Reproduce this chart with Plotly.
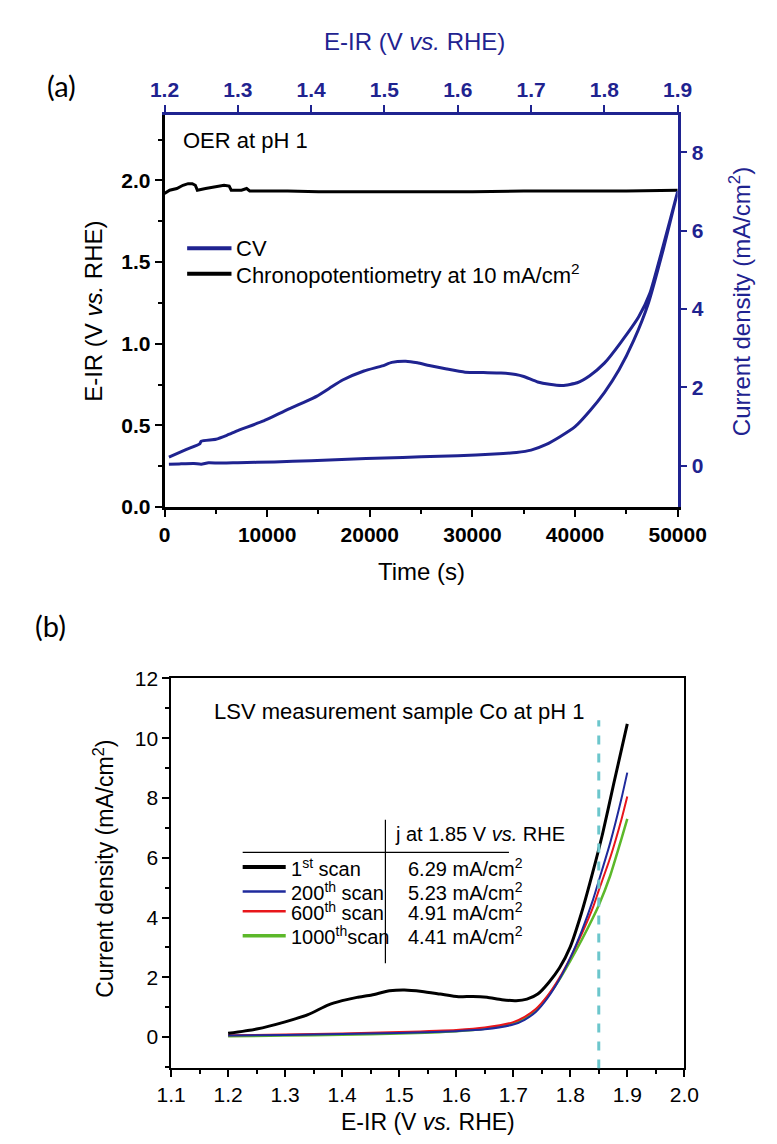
import plotly.graph_objects as go

W, H = 777, 1144

# ---------------- data: panel (a) ----------------
cp_time = [0, 500, 1200, 1800, 2300, 2700, 3000, 3200, 4000, 5000, 5800, 6300, 6500,
           7500, 8000, 8300, 9000, 12000, 15000, 20000, 25000, 30000, 35000, 40000, 45000, 50000]
cp_potential = [1.92, 1.94, 1.95, 1.97, 1.98, 1.98, 1.97, 1.94, 1.95, 1.96, 1.97, 1.965, 1.94,
                1.94, 1.95, 1.935, 1.935, 1.935, 1.93, 1.93, 1.93, 1.93, 1.935, 1.935, 1.935, 1.94]

cv_fwd_E = [1.206, 1.22, 1.24, 1.25, 1.26, 1.28, 1.30, 1.35, 1.40, 1.45, 1.50, 1.55, 1.60,
            1.65, 1.68, 1.70, 1.72, 1.74, 1.76, 1.78, 1.80, 1.82, 1.84, 1.86, 1.88, 1.90]
cv_fwd_j = [0.04, 0.05, 0.06, 0.04, 0.08, 0.07, 0.08, 0.10, 0.13, 0.17, 0.20, 0.23, 0.26,
            0.30, 0.34, 0.40, 0.54, 0.75, 1.00, 1.40, 1.87, 2.45, 3.20, 4.15, 5.50, 7.00]

cv_rev_E = [1.90, 1.88, 1.862, 1.847, 1.822, 1.80, 1.78, 1.763, 1.743, 1.725, 1.709, 1.69,
            1.679, 1.659, 1.635, 1.61, 1.585, 1.561, 1.545, 1.529, 1.51, 1.497, 1.472, 1.443,
            1.425, 1.408, 1.39, 1.373, 1.334, 1.30, 1.285, 1.27, 1.25, 1.248, 1.23, 1.206]
cv_rev_j = [7.00, 5.60, 4.40, 3.81, 3.14, 2.62, 2.30, 2.12, 2.05, 2.08, 2.14, 2.28,
            2.33, 2.37, 2.38, 2.39, 2.47, 2.56, 2.63, 2.67, 2.64, 2.55, 2.42, 2.19,
            1.98, 1.78, 1.62, 1.48, 1.14, 0.90, 0.78, 0.68, 0.63, 0.56, 0.42, 0.22]

# ---------------- data: panel (b) ----------------
lsv1_E = [1.20, 1.25, 1.30, 1.34, 1.376, 1.40, 1.426, 1.452, 1.483, 1.509, 1.54, 1.572,
          1.604, 1.629, 1.654, 1.68, 1.705, 1.724, 1.743, 1.762, 1.781, 1.80, 1.819,
          1.838, 1.857, 1.876, 1.90]
lsv1_j = [0.13, 0.27, 0.51, 0.75, 1.08, 1.22, 1.33, 1.41, 1.55, 1.58, 1.53, 1.44,
          1.35, 1.36, 1.33, 1.25, 1.22, 1.27, 1.44, 1.82, 2.31, 3.02, 4.11,
          5.41, 6.83, 8.46, 10.48]

lsv_E = [1.20, 1.30, 1.40, 1.50, 1.60, 1.65, 1.70, 1.72, 1.74, 1.76, 1.78, 1.80,
         1.82, 1.84, 1.85, 1.87, 1.89, 1.90]
lsv200_j = [0.05, 0.07, 0.10, 0.14, 0.20, 0.26, 0.42, 0.58, 0.85, 1.30, 1.90, 2.65,
            3.55, 4.60, 5.23, 6.50, 8.00, 8.85]
lsv600_j = [0.06, 0.09, 0.12, 0.17, 0.24, 0.32, 0.50, 0.68, 0.95, 1.38, 1.95, 2.65,
            3.45, 4.35, 4.91, 6.00, 7.30, 8.05]
lsv1000_j = [0.03, 0.05, 0.08, 0.12, 0.20, 0.28, 0.45, 0.62, 0.90, 1.35, 1.90, 2.55,
             3.25, 4.00, 4.41, 5.40, 6.65, 7.30]

scan_labels = ["1<sup>st</sup> scan", "200<sup>th</sup> scan", "600<sup>th</sup> scan",
               "1000<sup>th</sup>scan"]
scan_values = ["6.29 mA/cm<sup>2</sup>", "5.23 mA/cm<sup>2</sup>", "4.91 mA/cm<sup>2</sup>",
               "4.41 mA/cm<sup>2</sup>"]
ref_potential = 1.85

BLUE_A = "#1f2390"
BLACK = "#000000"
C_BLUE = "#1f2a9c"
C_RED = "#e8161b"
C_GREEN = "#5cb82a"
C_DASH = "#6cc6cc"
FONT = "Liberation Sans, Arial, sans-serif"


def px(x):
    return x / W


def py(y):
    return 1 - y / H


fig = go.Figure()

fig.add_trace(go.Scatter(x=cp_time, y=cp_potential, xaxis="x", yaxis="y", mode="lines",
                         line=dict(color=BLACK, width=3), showlegend=False))
fig.add_trace(go.Scatter(x=cv_fwd_E + cv_rev_E, y=cv_fwd_j + cv_rev_j, xaxis="x2", yaxis="y2",
                         mode="lines", line=dict(color=BLUE_A, width=3, shape="spline", smoothing=0.5),
                         showlegend=False))

for E, j, c, w in [(lsv_E, lsv1000_j, C_GREEN, 2.5), (lsv_E, lsv600_j, C_RED, 2),
                   (lsv_E, lsv200_j, C_BLUE, 2), (lsv1_E, lsv1_j, BLACK, 3)]:
    fig.add_trace(go.Scatter(x=E, y=j, xaxis="x3", yaxis="y3", mode="lines",
                             line=dict(color=c, width=w, shape="spline", smoothing=0.6),
                             showlegend=False))

tick_a = dict(showline=True, linewidth=2.5, ticks="outside", ticklen=7, tickwidth=2,
              showgrid=False, zeroline=False)
fig.update_layout(
    width=W, height=H, margin=dict(l=0, r=0, t=0, b=0),
    plot_bgcolor="white", paper_bgcolor="white",
    font=dict(family=FONT, color=BLACK),
    xaxis=dict(domain=[px(150), px(694)], anchor="y", range=[0, 50000],
               tickvals=[0, 10000, 20000, 30000, 40000, 50000], tickformat="d",
               linecolor=BLACK, tickcolor=BLACK,
               tickfont=dict(size=21, weight="bold", color=BLACK),
               minor=dict(dtick=5000, ticks="outside", ticklen=4, tickwidth=2, tickcolor=BLACK),
               **tick_a),
    yaxis=dict(domain=[py(497), py(97)], anchor="x", range=[0, 2.4], dtick=0.5,
               tickformat=".1f", linecolor=BLACK, tickcolor=BLACK,
               tickfont=dict(size=21, weight="bold", color=BLACK),
               minor=dict(dtick=0.25, ticks="outside", ticklen=4, tickwidth=2, tickcolor=BLACK),
               **tick_a),
    xaxis2=dict(overlaying="x", anchor="y", side="top", range=[1.2, 1.9], dtick=0.1,
                tick0=1.2, tickformat=".1f", linecolor=BLUE_A, tickcolor=BLUE_A,
                tickfont=dict(size=21, weight="bold", color=BLUE_A), **tick_a),
    yaxis2=dict(overlaying="y", anchor="x", side="right", range=[-1.05, 8.95],
                tickvals=[0, 2, 4, 6, 8], linecolor=BLUE_A, tickcolor=BLUE_A,
                tickfont=dict(size=21, weight="bold", color=BLUE_A), **tick_a),
    xaxis3=dict(domain=[px(157), px(701)], anchor="y3", range=[1.1, 2.0], dtick=0.1, tick0=1.1,
                tickformat=".1f", showline=True, mirror=True, linecolor=BLACK, linewidth=1.5,
                ticks="outside", ticklen=7, tickwidth=1.5, tickcolor=BLACK,
                tickfont=dict(size=21, color=BLACK), showgrid=False, zeroline=False,
                minor=dict(dtick=0.05, ticks="outside", ticklen=4, tickwidth=1.5, tickcolor=BLACK)),
    yaxis3=dict(domain=[py(1070), py(672)], anchor="x3", range=[-1.05, 12], dtick=2, tick0=0,
                showline=True, mirror=True, linecolor=BLACK, linewidth=1.5,
                ticks="outside", ticklen=7, tickwidth=1.5, tickcolor=BLACK,
                tickfont=dict(size=21, color=BLACK), showgrid=False, zeroline=False,
                minor=dict(dtick=1, ticks="outside", ticklen=4, tickwidth=1.5, tickcolor=BLACK)),
)


def note(x, y, text, size, color=BLACK, xref="paper", yref="paper", xanchor="center",
         angle=0, family=None):
    f = dict(size=size, color=color)
    if family:
        f["family"] = family
    return dict(x=x, y=y, xref=xref, yref=yref, xanchor=xanchor, yanchor="middle",
                showarrow=False, text=text, textangle=angle, font=f)


ann = []
# axis titles panel (a)
ann.append(note(px(415), py(22), "E-IR (V <i>vs.</i> RHE)", 24, BLUE_A))
ann.append(note(px(422), py(563), "Time (s)", 24))
ann.append(note(px(74), py(297), "E-IR (V <i>vs.</i> RHE)", 24, angle=-90))
ann.append(note(px(760), py(287), "Current density (mA/cm<sup>2</sup>)", 24, BLUE_A, angle=-90))
# panel labels
ann.append(note(px(41), py(67), "(a)", 29, family="Lato, Open Sans, sans-serif"))
ann.append(note(px(29), py(618), "(b)", 29, family="Lato, Open Sans, sans-serif"))
# text panel (a)
ann.append(note(1560, 2.247, "OER at pH 1", 22, xref="x", yref="y", xanchor="left"))
ann.append(note(6800, 1.584, "CV", 22, xref="x", yref="y", xanchor="left"))
ann.append(note(6800, 1.428, "Chronopotentiometry at 10 mA/cm<sup>2</sup>", 22,
                xref="x", yref="y", xanchor="left"))
# axis titles panel (b)
ann.append(note(px(429), py(1125), "E-IR (V <i>vs.</i> RHE)", 23))
ann.append(note(px(85), py(866), "Current density (mA/cm<sup>2</sup>)", 23, angle=-90))
# text panel (b)
ann.append(note(1.172, 10.9, "LSV measurement sample Co at pH 1", 22, xref="x3", yref="y3",
                xanchor="left"))
ann.append(note(1.49, 6.8, "j at 1.85 V <i>vs.</i> RHE", 20, xref="x3", yref="y3",
                xanchor="left"))
row_y = [5.69, 4.87, 4.21, 3.39]
row_c = [BLACK, C_BLUE, C_RED, C_GREEN]
row_w = [4, 2.5, 2.5, 3.5]
shapes = []
for lab, val, yv, c, w in zip(scan_labels, scan_values, row_y, row_c, row_w):
    ann.append(note(1.307, yv, lab, 20, xref="x3", yref="y3", xanchor="left"))
    ann.append(note(1.512, yv, val, 20, xref="x3", yref="y3", xanchor="left"))
    shapes.append(dict(type="line", xref="x3", yref="y3", x0=1.2255, x1=1.301, y0=yv, y1=yv,
                       line=dict(color=c, width=w)))

# legend samples panel (a)
shapes.append(dict(type="line", xref="x", yref="y", x0=2206, x1=6526, y0=1.584, y1=1.584,
                   line=dict(color=BLUE_A, width=4)))
shapes.append(dict(type="line", xref="x", yref="y", x0=2206, x1=6526, y0=1.428, y1=1.428,
                   line=dict(color=BLACK, width=4)))
# table lines panel (b)
shapes.append(dict(type="line", xref="x3", yref="y3", x0=1.2255, x1=1.6925, y0=6.18, y1=6.18,
                   line=dict(color=BLACK, width=1.2)))
shapes.append(dict(type="line", xref="x3", yref="y3", x0=1.4758, x1=1.4758, y0=2.47, y1=7.27,
                   line=dict(color=BLACK, width=1.2)))
# reference potential
shapes.append(dict(type="line", xref="x3", yref="y3", x0=ref_potential, x1=ref_potential,
                   y0=-1.05, y1=10.6, line=dict(color=C_DASH, width=3, dash="dash")))

fig.update_layout(annotations=ann, shapes=shapes)
fig.write_html("out.html", config=dict(displayModeBar=False))
